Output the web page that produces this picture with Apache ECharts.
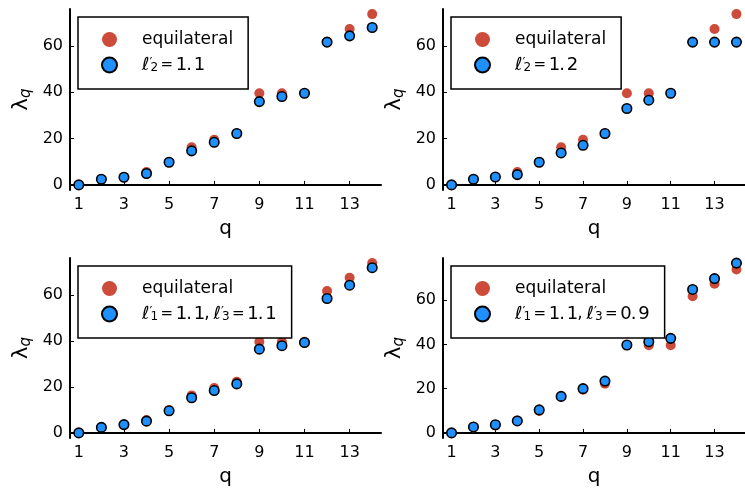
<!DOCTYPE html>
<html>
<head>
<meta charset="utf-8">
<script src="https://cdn.jsdelivr.net/npm/echarts@6/dist/echarts.min.js"></script>
<style>
  html, body { margin: 0; padding: 0; background: #fff; }
  #chart { width: 745px; height: 491px; }
</style>
</head>
<body>
<div id="chart"></div>
<script>
// Eigenvalue index and tick positions
const q = [1, 2, 3, 4, 5, 6, 7, 8, 9, 10, 11, 12, 13, 14];
const qTicks = [1, 3, 5, 7, 9, 11, 13];
const lambdaTicks = [0, 20, 40, 60];

// Reference spectrum of the equilateral configuration
const equilateral = [0, 2.45, 3.4, 5.6, 9.9, 16.3, 19.5, 22.2, 39.6, 39.6, 39.6, 61.7, 67.4, 73.8];

// Perturbed spectra, one per panel
const edge2_11 = [0, 2.45, 3.3, 4.9, 9.8, 14.7, 18.4, 22.2, 36.0, 38.2, 39.6, 61.7, 64.4, 68.0];
const edge2_12 = [0, 2.45, 3.4, 4.45, 9.8, 13.8, 17.1, 22.2, 33.0, 36.6, 39.6, 61.7, 61.7, 61.7];
const edge13_11_11 = [0, 2.4, 3.6, 5.1, 9.6, 15.3, 18.4, 21.3, 36.4, 37.9, 39.3, 58.4, 64.2, 71.8];
const edge13_11_09 = [0, 2.7, 3.7, 5.4, 10.4, 16.5, 20.0, 23.4, 39.7, 41.2, 42.7, 64.8, 69.7, 76.7];
const spectra = [edge2_11, edge2_12, edge13_11_11, edge13_11_09];

// Edge-length settings per panel: [edge index, stretched length]
const settings = [
  [['2', '1.1']],
  [['2', '1.2']],
  [['1', '1.1'], ['3', '1.1']],
  [['1', '1.1'], ['3', '0.9']]
];
const names = settings.map(s => s.map(([k, v]) => 'ℓ′' + '₀₁₂₃'[+k] + ' = ' + v).join(', '));

// rich-text form of a setting, e.g. ℓ′₂ = 1.1
function mathLabel(parts) {
  return '{g| }' + parts.map(([k, v]) =>
    '{l|ℓ}{p|′}{s|' + k + '}{h| }{e|=}{h| }' +
    v.split('').map(c => (c === '.' ? '{dot|.}' : '{d|' + c + '}')).join('')
  ).join('{c|,}{w| }');
}

const FONT = 'DejaVu Sans';
const RED = '#cc4b3a';
const BLUE = '#1e90ff';

// Panel frames (plot areas) in pixels
const frames = [
  { left: 70,  top: 9,   width: 311, height: 181, lx: 78,  ly: 17 },
  { left: 443, top: 9,   width: 311, height: 181, lx: 451, ly: 17 },
  { left: 70,  top: 258, width: 311, height: 180, lx: 78,  ly: 266 },
  { left: 443, top: 258, width: 311, height: 180, lx: 451, ly: 266 }
];

function pairs(vals) { return q.map((x, i) => [x, vals[i]]); }

// axis limits widened by 3% of the data span on both sides
function limits(arrs) {
  let lo = Infinity, hi = -Infinity;
  arrs.forEach(a => a.forEach(v => { lo = Math.min(lo, v); hi = Math.max(hi, v); }));
  const pad = 0.03 * (hi - lo);
  return [lo - pad, hi + pad];
}

const qLim = limits([q]);
const ink = { fontFamily: FONT, color: '#000' };
const legendRich = {
  g: { width: 20, fontSize: 10, lineHeight: 10 },
  t: { ...ink, fontSize: 17, lineHeight: 18 },
  l: { ...ink, fontSize: 18, fontStyle: 'italic', lineHeight: 18 },
  p: { ...ink, fontSize: 13, verticalAlign: 'top', lineHeight: 12, width: 1 },
  s: { ...ink, fontSize: 12, verticalAlign: 'bottom', lineHeight: 12 },
  h: { fontSize: 10, lineHeight: 10, width: 2.5 },
  w: { fontSize: 10, lineHeight: 10, width: 4 },
  e: { ...ink, fontSize: 15, lineHeight: 18 },
  c: { ...ink, fontSize: 17, lineHeight: 18 },
  d: { ...ink, fontSize: 18, lineHeight: 18, width: 10.5 },
  dot: { ...ink, fontSize: 18, lineHeight: 18, width: 7.5 }
};

const grid = [], xAxis = [], yAxis = [], series = [], legend = [];
frames.forEach((f, i) => {
  grid.push({ left: f.left, top: f.top, width: f.width, height: f.height, containLabel: false });
  const yl = limits([equilateral, spectra[i]]);
  xAxis.push({
    gridIndex: i, type: 'value', min: qLim[0], max: qLim[1],
    name: 'q', nameLocation: 'middle', nameGap: 29,
    nameTextStyle: { ...ink, fontSize: 20 },
    axisLine: { lineStyle: { color: '#000', width: 2 } },
    axisTick: { inside: true, length: 4, customValues: qTicks, lineStyle: { color: '#000', width: 1 } },
    axisLabel: { customValues: qTicks, ...ink, fontSize: 16, margin: 7 },
    splitLine: { show: false }
  });
  yAxis.push({
    gridIndex: i, type: 'value', min: yl[0], max: yl[1],
    name: '{l|λ}{s|q}', nameLocation: 'middle', nameGap: 36,
    nameTextStyle: {
      rich: {
        l: { ...ink, fontSize: 21, lineHeight: 24 },
        s: { ...ink, fontSize: 15, fontStyle: 'italic', verticalAlign: 'bottom', lineHeight: 15 }
      }
    },
    axisLine: { lineStyle: { color: '#000', width: 2 } },
    axisTick: { inside: true, length: 4, customValues: lambdaTicks, lineStyle: { color: '#000', width: 1 } },
    axisLabel: { customValues: lambdaTicks, ...ink, fontSize: 16, margin: 7 },
    splitLine: { show: false }
  });
  series.push({
    type: 'scatter', name: 'equilateral', xAxisIndex: i, yAxisIndex: i,
    data: pairs(equilateral), symbol: 'circle', symbolSize: 10,
    itemStyle: { color: RED, opacity: 1 }, clip: false
  });
  series.push({
    type: 'scatter', name: names[i], xAxisIndex: i, yAxisIndex: i,
    data: pairs(spectra[i]), symbol: 'circle', symbolSize: 9.5,
    itemStyle: { color: BLUE, borderColor: '#000', borderWidth: 1.6, opacity: 1 }, clip: false
  });
  legend.push({
    data: ['equilateral', names[i]],
    orient: 'vertical', left: f.lx, top: f.ly,
    itemWidth: 15, itemHeight: 15, itemGap: 8,
    padding: [14, 15, 15, 23],
    borderColor: '#000', borderWidth: 1.5, borderRadius: 0, backgroundColor: '#fff',
    selectedMode: false, inactiveColor: '#000',
    formatter: n => (n === 'equilateral' ? '{g| }{t|equilateral}' : mathLabel(settings[i])),
    textStyle: { rich: legendRich }
  });
});

const chart = echarts.init(document.getElementById('chart'), null, { renderer: 'canvas' });
chart.setOption({
  animation: false,
  backgroundColor: '#fff',
  grid, xAxis, yAxis, series, legend
});
</script>
</body>
</html>
